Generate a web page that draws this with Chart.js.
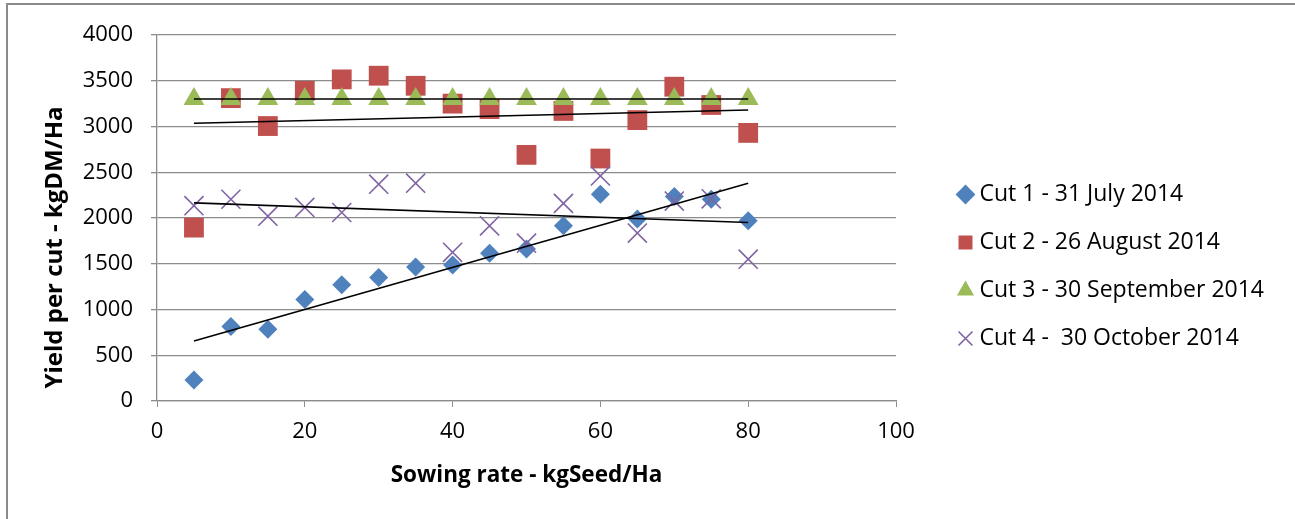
<!DOCTYPE html>
<html>
<head>
<meta charset="utf-8">
<script src="https://cdn.jsdelivr.net/npm/chart.js@4/dist/chart.umd.min.js"></script>
<style>
  html, body { margin: 0; padding: 0; background: #fff; }
  #frame {
    position: absolute; left: 6px; top: 3px; width: 1400px; height: 600px;
    border: 2px solid #8a8a8a; box-sizing: border-box;
  }
  #wrap { position: absolute; left: 0; top: 0; width: 1295px; height: 519px; }
</style>
</head>
<body>
<div id="frame"></div>
<div id="wrap"><canvas id="chart" width="1295" height="519"></canvas></div>
<script>
// sowing rate, kgSeed/Ha
const sowingRate = [5, 10, 15, 20, 25, 30, 35, 40, 45, 50, 55, 60, 65, 70, 75, 80];

// yield per cut, kgDM/Ha
const cut1 = [230, 815, 785, 1110, 1270, 1350, 1465, 1485, 1615, 1660, 1915, 2260, 1990, 2235, 2205, 1970];
const cut2 = [1895, 3310, 3005, 3390, 3515, 3555, 3445, 3250, 3190, 2690, 3170, 2650, 3070, 3435, 3235, 2930];
const cut3 = [3300, 3300, 3300, 3300, 3300, 3300, 3300, 3300, 3300, 3300, 3300, 3300, 3300, 3300, 3300, 3300];
const cut4 = [2135, 2205, 2020, 2115, 2060, 2370, 2380, 1625, 1915, 1725, 2160, 2460, 1835, 2185, 2210, 1550];

// linear trendline ends, read at x = 5 and x = 80
const trendX = [5, 80];
const trend1 = [655, 2380];
const trend2 = [3035, 3180];
const trend3 = [3300, 3300];
const trend4 = [2165, 1950];

const seriesNames = ["Cut 1 - 31 July 2014", "Cut 2 - 26 August 2014", "Cut 3 - 30 September 2014", "Cut 4 -  30 October 2014"];

const pts = (ys) => sowingRate.map((x, i) => ({ x: x, y: ys[i] }));
const line = (ys) => trendX.map((x, i) => ({ x: x, y: ys[i] }));

const FONT = "'Open Sans', sans-serif";
const PLOT_RIGHT = 896;
const LEGEND_GAP = 42;
const LEG_SIZE = 23, LEG_PAD = 25, LEG_BOX = 5;

function trend(ys) {
  return {
    label: "trend", data: line(ys), showLine: true, borderColor: "#000",
    borderWidth: 1.6, pointRadius: 0, fill: false, order: 0
  };
}

// empty box between plot and legend
const legendGap = {
  id: "legendGap",
  beforeInit(chart) {
    Chart.layouts.addBox(chart, {
      position: "right", weight: 0, fullSize: false, options: {},
      update(maxWidth, maxHeight) { this.width = LEGEND_GAP; this.height = maxHeight; },
      isHorizontal() { return false; },
      draw() {}
    });
  }
};

const ctx = document.getElementById("chart").getContext("2d");

// right padding so the plot ends at PLOT_RIGHT (legend width as Chart.js measures it)
ctx.font = LEG_SIZE + "px " + FONT;
const textW = Math.max(...seriesNames.map((s) => ctx.measureText(s).width));
const legendW = LEG_PAD + LEG_BOX + LEG_SIZE / 2 + textW + 10;
const padRight = Math.max(0, ctx.canvas.width - PLOT_RIGHT - LEGEND_GAP - legendW);

new Chart(ctx, {
  type: "scatter",
  data: {
    datasets: [
      {
        label: seriesNames[0], data: pts(cut1), pointStyle: "rectRot", pointRadius: 9.5,
        backgroundColor: "#4f81bd", borderColor: "#4f81bd", borderWidth: 0, order: 4
      },
      {
        label: seriesNames[1], data: pts(cut2), pointStyle: "rect", pointRadius: 14,
        backgroundColor: "#c0504d", borderColor: "#c0504d", borderWidth: 0, order: 3
      },
      {
        label: seriesNames[2], data: pts(cut3), pointStyle: "triangle", pointRadius: 12,
        backgroundColor: "#9bbb59", borderColor: "#9bbb59", borderWidth: 0, order: 2
      },
      {
        label: seriesNames[3], data: pts(cut4), pointStyle: "crossRot", pointRadius: 13.5,
        backgroundColor: "#8064a2", borderColor: "#8064a2", borderWidth: 1.6, order: 1
      },
      trend(trend1), trend(trend2), trend(trend3), trend(trend4)
    ]
  },
  options: {
    responsive: false,
    animation: false,
    events: [],
    layout: { padding: { left: 0, top: 35, right: padRight, bottom: 21 } },
    plugins: {
      tooltip: { enabled: false },
      legend: {
        position: "right",
        maxWidth: 420,
        labels: {
          usePointStyle: true,
          boxWidth: LEG_BOX,
          boxHeight: 14,
          padding: LEG_PAD,
          color: "#000",
          font: { family: FONT, size: LEG_SIZE },
          filter: (item) => item.text !== "trend",
          sort: (a, b) => a.datasetIndex - b.datasetIndex
        }
      }
    },
    scales: {
      x: {
        type: "linear", min: 0, max: 100,
        ticks: { stepSize: 20, color: "#000", padding: 12, font: { family: FONT, size: 22 },
                 callback: (v) => String(v) },
        grid: { drawOnChartArea: false, drawTicks: true, tickLength: 6, color: "#8c8c8c" },
        border: { color: "#8c8c8c", width: 1.3 },
        title: {
          display: true, text: "Sowing rate - kgSeed/Ha", color: "#000",
          font: { family: FONT, size: 22.5, weight: "bold" }, padding: { top: 0, bottom: 8.5 }
        },
        afterFit(scale) { scale.height = 97; }
      },
      y: {
        min: 0, max: 4000,
        ticks: { stepSize: 500, color: "#000", padding: 18, font: { family: FONT, size: 22 },
                 callback: (v) => String(v) },
        grid: { color: "#8c8c8c", lineWidth: 1.3, tickLength: 6 },
        border: { color: "#8c8c8c", width: 1.3 },
        title: {
          display: true, text: "  Yield per cut - kgDM/Ha", color: "#000", align: "start",
          font: { family: FONT, size: 24, weight: "bold" }, padding: { top: 41, bottom: 0 }
        },
        afterFit(scale) { scale.width = 157; }
      }
    }
  },
  plugins: [legendGap]
});
</script>
</body>
</html>
